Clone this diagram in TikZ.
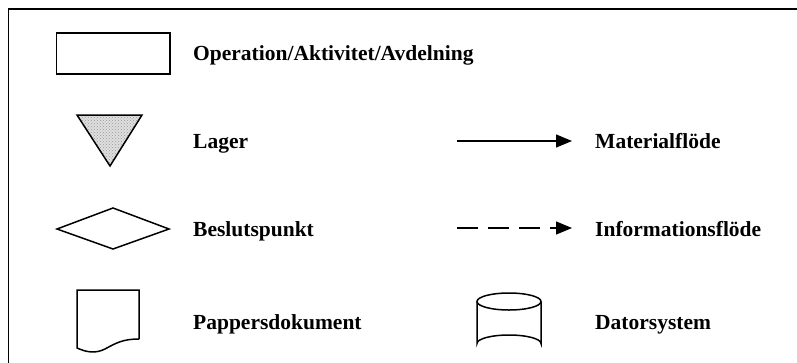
\documentclass[tikz,border=0pt]{standalone}
\usepackage{fontspec}
\setmainfont{Liberation Serif}
\usetikzlibrary{arrows.meta,patterns}
\begin{document}
\begin{tikzpicture}[x=1pt,y=-1pt,
  shapeline/.style={line width=1.5pt,line join=miter},
  label/.style={anchor=base west,inner sep=0pt,font=\fontsize{21.5}{24}\selectfont\bfseries},
  flow/.style={line width=1.3pt,-{Triangle[length=16pt,width=13pt]}},
  infoflow/.style={flow,dash pattern=on 21pt off 10pt}]
\useasboundingbox (0,0) rectangle (797,362);
\fill[white] (0,0) rectangle (797,362);
% outer frame, running off the right and bottom edges
\draw[line width=1.5pt] (8.5,9) rectangle (820,380);

% operation / activity / department
\draw[shapeline] (56.5,33) rectangle (170,74);
\node[label] (op) at (193,60) {Operation/Aktivitet/Avdelning};

% stock (dotted grey fill)
\fill[gray!25] (77,115) -- (142,115) -- (110,166) -- cycle;
\fill[pattern=crosshatch dots,pattern color=gray!80] (77,115) -- (142,115) -- (110,166) -- cycle;
\draw[shapeline] (77,115) -- (142,115) -- (110,166) -- cycle;
\node[label] (lager) at (193,148) {Lager};

% decision point
\draw[shapeline] (57,229) -- (113,208) -- (169,229) -- (113,249) -- cycle;
\node[label] (beslut) at (193,236) {Beslutspunkt};

% paper document
\draw[shapeline] (139,339) -- (139,290) -- (77,290) -- (77,348)
  .. controls (86,352) and (95,354) .. (105,349)
  .. controls (116,343) and (123,339) .. (139,339);
\node[label] (papper) at (193,329) {Pappersdokument};

% material flow
\coordinate (m1) at (457,141);
\coordinate (m2) at (572,141);
\draw[flow] (m1) -- (m2);
\node[label] (mat) at (595,148) {Materialflöde};

% information flow
\coordinate (i1) at (457,228);
\coordinate (i2) at (572,228);
\draw[infoflow] (i1) -- (i2);
\node[label] (info) at (595,236) {Informationsflöde};

% computer system
\draw[shapeline] (477,301.5) -- (477,343.5) arc[start angle=180,end angle=360,x radius=32,y radius=8.5] -- (541,301.5);
\draw[shapeline] (509,301.5) ellipse[x radius=32,y radius=8.5];
\node[label] (dator) at (595,329) {Datorsystem};
\end{tikzpicture}
\end{document}
